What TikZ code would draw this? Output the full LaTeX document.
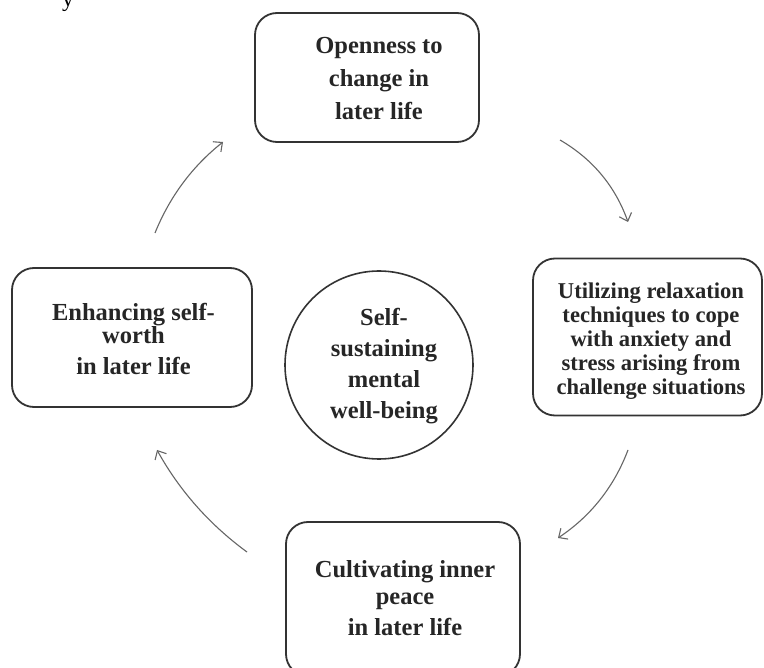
\documentclass[tikz,border=0pt]{standalone}
\usepackage{fontspec}
\setmainfont{Liberation Serif}
\usetikzlibrary{arrows.meta}
\begin{document}
\begin{tikzpicture}[x=1pt,y=-1pt,
  boxstyle/.style={draw=black!80, line width=1.8pt, rounded corners=22pt, inner sep=0pt},
  txtstyle/.style={align=center, inner sep=0pt, font=\bfseries\fontsize{24.5}{24.5}\selectfont, text=black!85},
  circstyle/.style={draw=black!80, line width=1.6pt, circle, inner sep=0pt, minimum size=188pt},
  arrowstyle/.style={draw=black!60, line width=1.1pt, -{Straight Barb[length=7pt,width=13pt]}}]
\useasboundingbox (0,0) rectangle (764,668);
\clip (0,0) rectangle (764,668);
\fill[white] (0,0) rectangle (764,668);

\node[anchor=base, font=\fontsize{23.5}{24}\selectfont] (frag) at (68,6.5) {y};

% boxes
\node[boxstyle, minimum width=224pt, minimum height=129pt] (top) at (367,77.5) {};
\node[boxstyle, minimum width=229pt, minimum height=157pt] (right) at (647.5,337) {};
\node[boxstyle, minimum width=240pt, minimum height=139pt] (left) at (132,337.5) {};
\node[boxstyle, minimum width=234pt, minimum height=154pt] (bottom) at (403,599) {};
\node[circstyle] (center) at (379,365) {};

% texts
\node[txtstyle] (toptext) at (379,79)
  {Openness to\\[8.5pt]change in\\[8.5pt]later life};
\node[txtstyle, font=\bfseries\fontsize{22.6}{24}\selectfont] (righttext) at (651,341)
  {Utilizing relaxation\\techniques to cope\\with anxiety and\\stress arising from\\challenge situations};
\node[txtstyle] (lefttext) at (133.5,339)
  {Enhancing self-\\[-1pt]worth\\[6.5pt]in later life};
\node[txtstyle] (bottomtext) at (405,598)
  {Cultivating inner\\[2.5pt]peace\\[6.5pt]in later life};
\node[txtstyle, font=\bfseries\fontsize{24.5}{31}\selectfont] (centertext) at (384,366)
  {Self-\\sustaining\\mental\\well-being};

% arrows
\coordinate (a1s) at (560,140); \coordinate (a1e) at (628,222);
\coordinate (a2s) at (628,450); \coordinate (a2e) at (558,538);
\coordinate (a3s) at (247,552); \coordinate (a3e) at (157,450);
\coordinate (a4s) at (155,233); \coordinate (a4e) at (223,142);

\draw[arrowstyle] (a1s) .. controls (592.7,159) and (615.3,186.4) .. (a1e);
\draw[arrowstyle] (a2s) .. controls (614.1,486.8) and (590.7,516.2) .. (a2e);
\draw[arrowstyle] (a3s) .. controls (209.5,524.6) and (179.5,490.6) .. (a3e);
\draw[arrowstyle] (a4s) .. controls (169.7,196.7) and (192.3,166.3) .. (a4e);
\end{tikzpicture}
\end{document}
